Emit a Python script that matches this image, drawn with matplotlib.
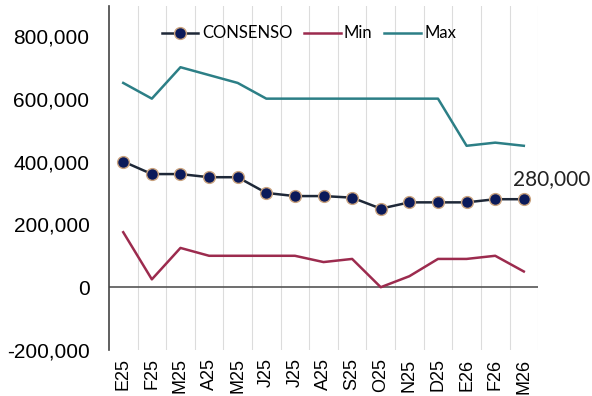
import matplotlib
matplotlib.use("Agg")
import matplotlib.pyplot as plt
from matplotlib.ticker import FuncFormatter

months = ["E25", "F25", "M25", "A25", "M25", "J25", "J25", "A25", "S25",
          "O25", "N25", "D25", "E26", "F26", "M26"]
consenso = [400000, 360000, 360000, 350000, 350000, 300000, 290000, 290000,
            285000, 250000, 270000, 270000, 270000, 280000, 280000]
minimo = [175000, 25000, 125000, 100000, 100000, 100000, 100000, 80000,
          90000, 0, 35000, 90000, 90000, 100000, 50000]
maximo = [650000, 600000, 700000, 675000, 650000, 600000, 600000, 600000,
          600000, 600000, 600000, 600000, 450000, 460000, 450000]
y_ticks = [-200000, 0, 200000, 400000, 600000, 800000]

fig = plt.figure(figsize=(5.92, 3.96), dpi=100)
ax = fig.add_axes([0.184, 0.116, 0.725, 0.869])

x = list(range(len(months)))
ax.plot(x, consenso, color="#1e2838", lw=1.8, marker="o", markersize=8.5,
        markerfacecolor="#0b1a5a", markeredgecolor="#c9a27e", markeredgewidth=1.0,
        label="CONSENSO", zorder=4)
ax.plot(x, minimo, color="#9c2b4e", lw=1.8, label="Min", zorder=3)
ax.plot(x, maximo, color="#2c7f86", lw=1.8, label="Max", zorder=3)

ax.annotate(f"{consenso[-1]:,}", (x[-1], consenso[-1]), xytext=(-8, 7),
            textcoords="offset points", fontsize=15, family="Lato",
            color="#222222", ha="left", va="bottom")

ax.set_xlim(-0.5, len(months) - 0.5)
ax.set_ylim(-200000, 895000)
for k in range(len(months)):
    ax.axvline(k + 0.5, color="#dcdcdc", lw=0.8, zorder=1)
ax.axhline(0, color="#555555", lw=1.2, zorder=2)

ax.set_xticks(x)
ax.set_xticklabels(months, rotation=90, fontsize=13, family="Liberation Sans")
ax.set_yticks(y_ticks)
ax.yaxis.set_major_formatter(FuncFormatter(lambda v, p: f"{int(v):,}"))
for lab in ax.get_yticklabels():
    lab.set_fontsize(15)
    lab.set_family("Liberation Sans")
ax.tick_params(axis="y", length=0, pad=14)
ax.tick_params(axis="x", length=0, pad=6)

for s in ["top", "right", "bottom"]:
    ax.spines[s].set_visible(False)
ax.spines["left"].set_color("#444444")
ax.spines["left"].set_linewidth(1.2)

leg = ax.legend(loc="center", bbox_to_anchor=(0.466, 0.92), ncol=3, frameon=False,
                prop={"family": "Lato", "size": 12}, handlelength=2.2,
                columnspacing=0.7, handletextpad=0.2)

fig.savefig("out.png", dpi=100)
